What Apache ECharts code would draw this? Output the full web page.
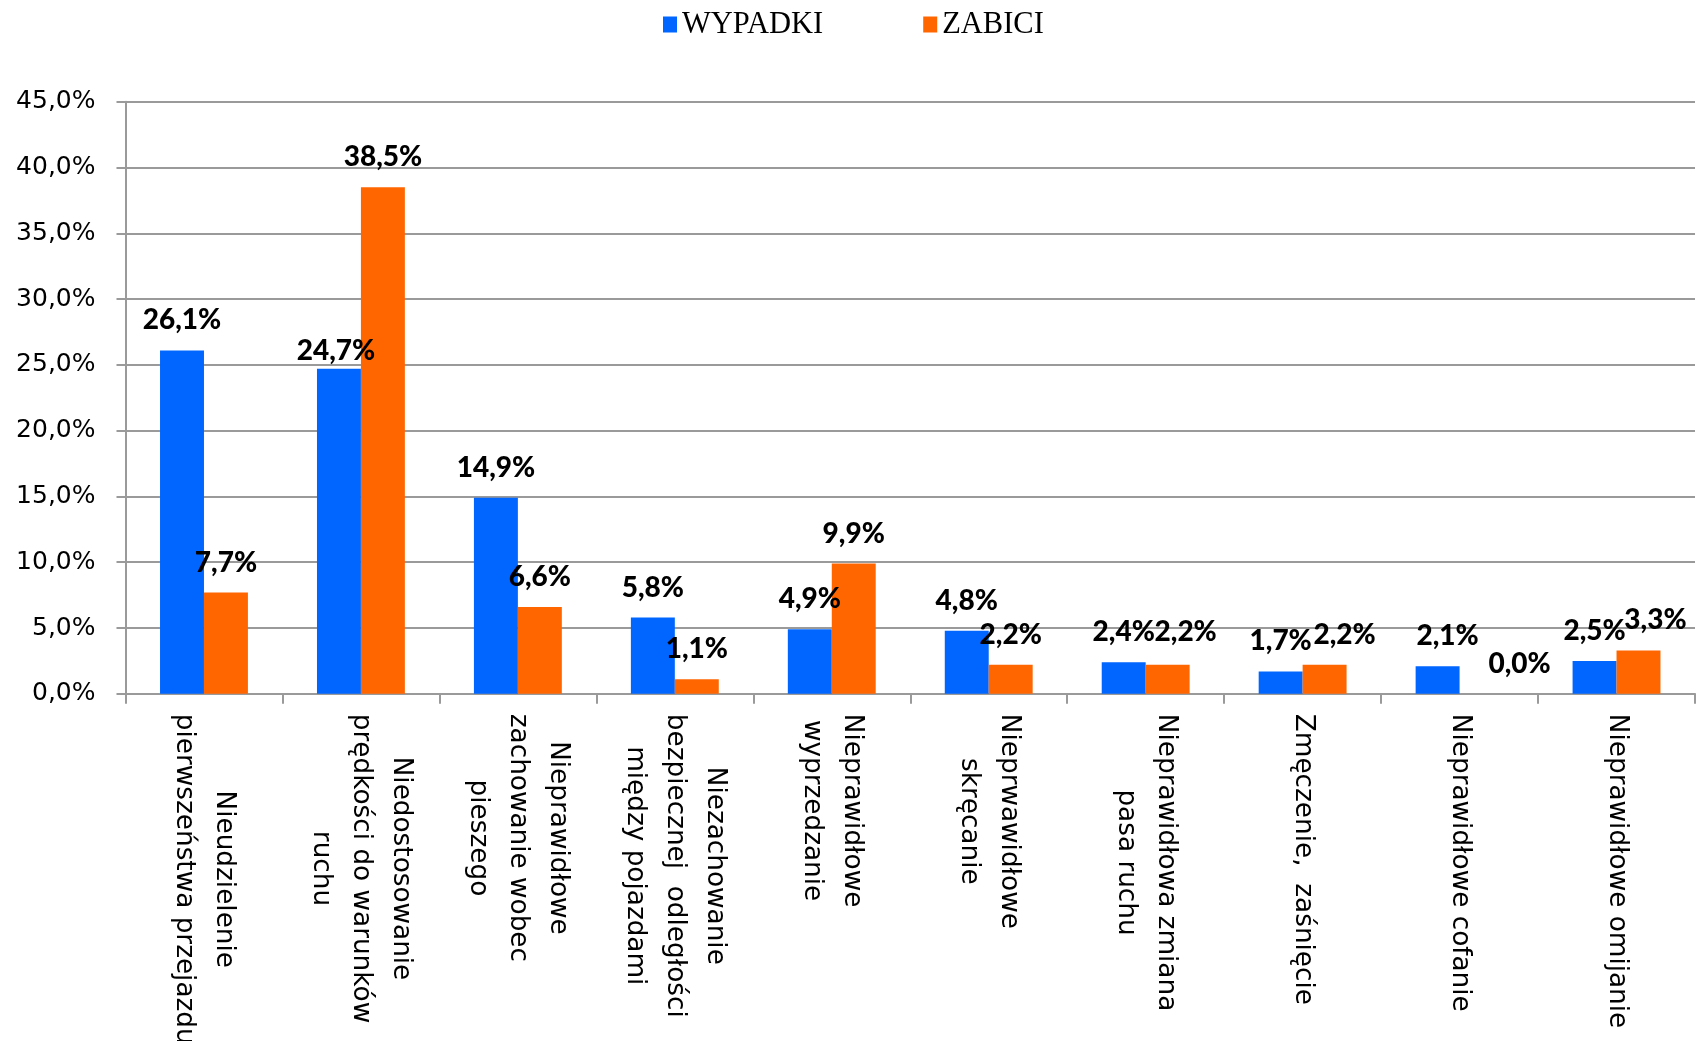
<!DOCTYPE html>
<html>
<head>
<meta charset="utf-8">
<script src="https://cdn.jsdelivr.net/npm/echarts@6/dist/echarts.min.js"></script>
<style>
html,body{margin:0;padding:0;background:#fff;}
#chart{width:1697px;height:1041px;}
</style>
</head>
<body>
<div id="chart"></div>
<script>
var categories = [
	'Nieudzielenie\npierwszeństwa przejazdu',
	'Niedostosowanie\nprędkości do warunków\nruchu',
	'Nieprawidłowe\nzachowanie wobec\npieszego',
	'Niezachowanie\nbezpiecznej  odległości\nmiędzy pojazdami',
	'Nieprawidłowe\nwyprzedzanie',
	'Nieprwawidłowe\nskręcanie',
	'Nieprawidłowa zmiana\npasa ruchu',
	'Zmęczenie,  zaśnięcie',
	'Nieprawidłowe cofanie',
	'Nieprawidłowe omijanie'
];
var wypadki = [26.1, 24.7, 14.9, 5.8, 4.9, 4.8, 2.4, 1.7, 2.1, 2.5];
var zabici = [7.7, 38.5, 6.6, 1.1, 9.9, 2.2, 2.2, 2.2, 0.0, 3.3];
var seriesNames = ['WYPADKI', 'ZABICI'];
var yTicks = [0, 5, 10, 15, 20, 25, 30, 35, 40, 45];

// labels moved by hand in the original
var nudgeW = {1: [-3, 12], 8: [10, 0]};
var nudgeZ = {6: [18, -3], 7: [20, 0], 8: [38, 0], 9: [17, 0]};

function pct(v){
	return v.toFixed(1).replace('.', ',') + '%';
}
function items(values, nudge){
	return values.map(function(v, i){
		var o = {value: v};
		if(nudge[i]){
			o.label = {offset: nudge[i]};
		}
		return o;
	});
}

var labelStyle = {
	show: true,
	position: 'top',
	distance: 16,
	fontFamily: 'Lato',
	fontWeight: 900,
	fontSize: 28,
	color: '#000',
	formatter: function(p){ return pct(p.value); }
};

var myChart = echarts.init(document.getElementById('chart'));
var option = {
	animation: false,
	legend: {
		left: 658,
		top: 4,
		icon: 'rect',
		itemWidth: 14,
		itemHeight: 16,
		itemGap: 100,
		textStyle: {
			fontFamily: 'Liberation Serif',
			fontSize: 30.5,
			color: '#000'
		},
		data: seriesNames
	},
	grid: {
		left: 125.5,
		right: 2,
		top: 101.7,
		bottom: 347.2,
		outerBoundsMode: 'none'
	},
	xAxis: {
		type: 'category',
		data: categories,
		axisLine: {lineStyle: {color: '#9a9a9a', width: 2}},
		axisTick: {show: true, length: 10, lineStyle: {color: '#9a9a9a', width: 2}},
		axisLabel: {
			interval: 0,
			rotate: -90,
			margin: 20,
			formatter: function(v){
				return v.split('\n').map(function(s){ return '{c|' + s + '}'; }).join('\n');
			},
			rich: {
				c: {
					align: 'center',
					fontFamily: 'DejaVu Sans',
					fontSize: 26.3,
					lineHeight: 40,
					color: '#000'
				}
			}
		}
	},
	yAxis: {
		type: 'value',
		min: yTicks[0],
		max: yTicks[yTicks.length - 1],
		interval: 5,
		axisLine: {show: true, lineStyle: {color: '#9a9a9a', width: 2}},
		axisTick: {show: true, length: 9, lineStyle: {color: '#9a9a9a', width: 2}},
		splitLine: {lineStyle: {color: '#9a9a9a', width: 2}},
		axisLabel: {
			margin: 30,
			fontFamily: 'DejaVu Sans',
			fontSize: 25,
			color: '#000',
			formatter: function(v){ return pct(v); }
		}
	},
	series: [
		{
			name: seriesNames[0],
			type: 'bar',
			barGap: '0%',
			barCategoryGap: '44%',
			itemStyle: {color: '#0066ff'},
			label: labelStyle,
			data: items(wypadki, nudgeW)
		},
		{
			name: seriesNames[1],
			type: 'bar',
			barGap: '0%',
			barCategoryGap: '44%',
			itemStyle: {color: '#ff6600'},
			label: labelStyle,
			data: items(zabici, nudgeZ)
		}
	]
};
myChart.setOption(option);
</script>
</body>
</html>
